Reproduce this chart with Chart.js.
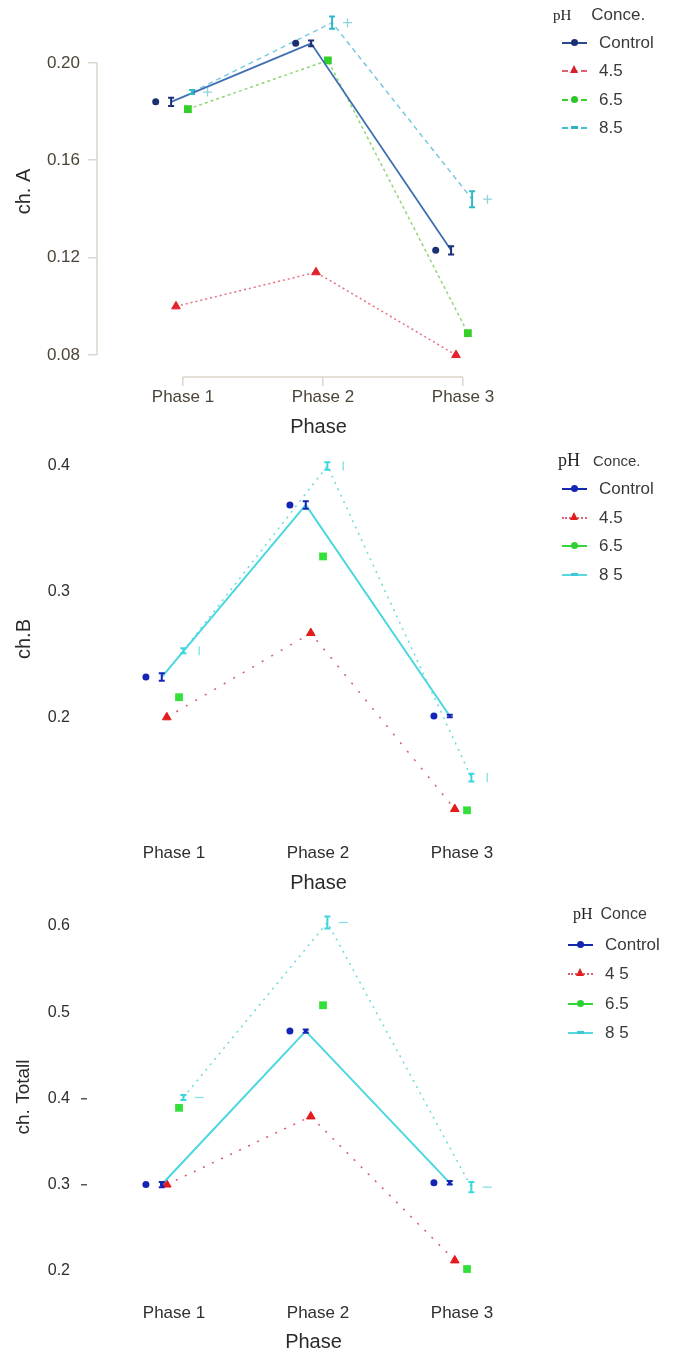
<!DOCTYPE html>
<html>
<head>
<meta charset="utf-8">
<script src="https://cdn.jsdelivr.net/npm/chart.js@4.4.1/dist/chart.umd.min.js"></script>
<style>
  html, body { margin: 0; padding: 0; background: #fff; overflow: hidden; }
  body { position: relative; width: 675px; height: 1354px; font-family: "Liberation Sans", Arial, sans-serif; }
  canvas { position: absolute; left: 0; }
  .legend { position: absolute; color: #3a3a3a; }
  .legend .head { position: absolute; white-space: nowrap; }
  .legend .head .ph { font-family: "Liberation Serif", "DejaVu Serif", serif; color: #222; }
  .legend .row { position: absolute; left: 0; height: 20px; line-height: 20px; white-space: nowrap; font-size: 17px; }
  .legend .sym { position: absolute; left: 0; top: 3px; width: 25px; height: 14px; }
  .legend .sym .ln { position: absolute; left: 0; right: 0; top: 6px; border-top-width: 2px; }
  .legend .sym .mk { position: absolute; }
  .legend .txt { position: absolute; left: 37px; top: 0; }
</style>
</head>
<body>
<canvas id="chartA" width="675" height="440" style="top:0px"></canvas>
<canvas id="chartB" width="675" height="460" style="top:440px"></canvas>
<canvas id="chartT" width="675" height="456" style="top:898px"></canvas>
<div class="legend" id="legA"></div>
<div class="legend" id="legB"></div>
<div class="legend" id="legT"></div>
<script>
const phases = ['Phase 1', 'Phase 2', 'Phase 3'];

// ch. A
const chA_control = [0.184, 0.208, 0.123];
const chA_ph45 = [0.100, 0.114, 0.080];
const chA_ph65 = [0.181, 0.201, 0.089];
const chA_ph85 = [0.188, 0.2165, 0.144];
const chA_errControl = [0.0017, 0.0012, 0.0017];
const chA_err85 = [0.0008, 0.0025, 0.0033];
const chA_ticks = [0.08, 0.12, 0.16, 0.20];
const chA_labels = ['Control', '4.5', '6.5', '8.5'];

// ch.B
const chB_control = [0.232, 0.369, 0.201];
const chB_ph45 = [0.200, 0.267, 0.127];
const chB_ph65 = [0.216, 0.328, 0.126];
const chB_ph85 = [0.253, 0.400, 0.152];
const chB_errControl = [0.003, 0.003, 0.001];
const chB_err85 = [0.002, 0.003, 0.003];
const chB_ticks = [0.2, 0.3, 0.4];
const chB_labels = ['Control', '4.5', '6.5', '8 5'];

// ch. Totall
const chT_control = [0.300, 0.478, 0.302];
const chT_ph45 = [0.300, 0.379, 0.212];
const chT_ph65 = [0.389, 0.508, 0.202];
const chT_ph85 = [0.401, 0.604, 0.297];
const chT_errControl = [0.003, 0.002, 0.002];
const chT_err85 = [0.003, 0.007, 0.006];
const chT_ticks = [0.2, 0.3, 0.4, 0.5, 0.6];
const chT_labels = ['Control', '4 5', '6.5', '8 5'];

// horizontal dodge of each series around its phase (phase units)
const dodge = { ctrlDot: -0.195, ctrlLine: -0.085, ph45: -0.05, ph65: 0.035, ph85: 0.065, ph85Mark: 0.175 };

function pts(values, off) {
  return values.map((v, i) => ({ x: i + 1 + off, y: v }));
}

// little "I" error bars, drawn through the scales
const errorBars = {
  id: 'errorBars',
  afterDatasetsDraw(chart) {
    const { ctx, scales: { x, y } } = chart;
    chart.data.datasets.forEach((ds) => {
      if (!ds.errors) return;
      ctx.save();
      ctx.strokeStyle = ds.errorColor;
      ctx.lineWidth = 2;
      ds.data.forEach((p, i) => {
        const px = x.getPixelForValue(p.x);
        const top = y.getPixelForValue(p.y + ds.errors[i]);
        const bot = y.getPixelForValue(p.y - ds.errors[i]);
        ctx.beginPath();
        ctx.moveTo(px, top); ctx.lineTo(px, bot);
        ctx.moveTo(px - 3, top); ctx.lineTo(px + 3, top);
        ctx.moveTo(px - 3, bot); ctx.lineTo(px + 3, bot);
        ctx.stroke();
      });
      ctx.restore();
    });
  }
};

// R style axis lines that only span first..last tick
const rAxis = {
  id: 'rAxis',
  beforeDatasetsDraw(chart, args, opts) {
    if (!opts.color) return;
    const { ctx, scales: { x, y }, chartArea } = chart;
    const yt = y.ticks, xt = x.ticks;
    ctx.save();
    ctx.strokeStyle = opts.color;
    ctx.lineWidth = 1.5;
    ctx.beginPath();
    ctx.moveTo(chartArea.left, y.getPixelForValue(yt[0].value));
    ctx.lineTo(chartArea.left, y.getPixelForValue(yt[yt.length - 1].value));
    ctx.moveTo(x.getPixelForValue(xt[0].value), chartArea.bottom);
    ctx.lineTo(x.getPixelForValue(xt[xt.length - 1].value), chartArea.bottom);
    ctx.stroke();
    ctx.restore();
  }
};

function makeChart(id, c) {
  const s = c.style;
  const datasets = [
    { label: 'Control', data: pts(c.control, dodge.ctrlLine), borderColor: s.ctrlLine, borderWidth: s.ctrlWidth,
      pointStyle: 'rect', pointRadius: s.ctrlR, pointBackgroundColor: s.ctrlPoint, pointBorderWidth: 0,
      errors: c.errControl, errorColor: s.ctrlPoint },
    { label: 'Control mean', data: pts(c.control, dodge.ctrlDot), showLine: false,
      pointStyle: 'circle', pointRadius: 3.5, pointBackgroundColor: s.ctrlPoint, pointBorderWidth: 0 },
    { label: '4.5', data: pts(c.ph45, dodge.ph45), borderColor: s.p45Line, borderDash: s.p45Dash, borderWidth: 1.5,
      pointStyle: 'triangle', pointRadius: 5, pointBackgroundColor: s.p45Point, pointBorderColor: s.p45Point, pointBorderWidth: 1 },
    { label: '6.5', data: pts(c.ph65, dodge.ph65), showLine: s.p65ShowLine, borderColor: s.p65Line, borderDash: [3, 3], borderWidth: 1.5,
      pointStyle: 'rect', pointRadius: 5.5, pointBackgroundColor: s.p65Point, pointBorderWidth: 0 },
    { label: '8.5', data: pts(c.ph85, dodge.ph85), borderColor: s.p85Line, borderDash: s.p85Dash, borderWidth: 1.5,
      pointRadius: 0, errors: c.err85, errorColor: s.p85Point },
    { label: '8.5 mark', data: pts(c.ph85, dodge.ph85Mark), showLine: false,
      pointStyle: s.markStyle, pointRotation: s.markRot, pointRadius: 4.5, pointBorderColor: s.p85Mark, pointBorderWidth: 1.3 }
  ];

  return new Chart(document.getElementById(id), {
    type: 'line',
    data: { datasets: datasets },
    plugins: [rAxis, errorBars],
    options: {
      responsive: false,
      animation: false,
      layout: { padding: { top: 5, right: 675 - c.right, left: 0, bottom: 0 } },
      plugins: {
        legend: { display: false },
        tooltip: { enabled: false },
        rAxis: { color: c.axisLine }
      },
      scales: {
        x: {
          type: 'linear', min: c.xMin, max: c.xMax,
          afterBuildTicks: sc => { sc.ticks = phases.map((p, i) => ({ value: i + 1 })); },
          afterFit: sc => { sc.height = c.height - c.bottom; sc.paddingLeft = 0; sc.paddingRight = 0; },
          ticks: { callback: v => phases[Math.round(v) - 1], autoSkip: false, maxRotation: 0,
                   padding: c.xPad, color: c.tickColor, font: { family: 'Liberation Sans', size: 17 } },
          grid: c.axisLine ? { drawOnChartArea: false, drawTicks: true, tickLength: 9, color: c.axisLine, lineWidth: 1.5 }
                           : { display: false, drawTicks: false },
          border: { display: false },
          title: { display: true, text: 'Phase', color: '#2a2a2a', font: { family: 'Liberation Sans', size: 20 },
                   padding: { top: 0, bottom: c.titlePad } }
        },
        y: {
          type: 'linear', min: c.yMin, max: c.yMax,
          afterBuildTicks: sc => { sc.ticks = c.ticks.map(v => ({ value: v })); },
          afterFit: sc => { sc.width = c.left; sc.paddingTop = 0; sc.paddingBottom = 0; },
          ticks: { callback: v => v.toFixed(c.decimals), padding: c.yPad, color: c.tickColor,
                   font: { family: 'Liberation Sans', size: c.yFont } },
          grid: c.yGrid,
          border: { display: false },
          title: { display: true, text: c.title, color: '#2a2a2a', font: { family: 'Liberation Sans', size: c.titleFont },
                   padding: { top: 12, bottom: 0 } }
        }
      }
    }
  });
}

makeChart('chartA', {
  control: chA_control, ph45: chA_ph45, ph65: chA_ph65, ph85: chA_ph85,
  errControl: chA_errControl, err85: chA_err85, ticks: chA_ticks, decimals: 2, title: 'ch. A', titleFont: 20,
  height: 440, bottom: 377, left: 97, right: 540, xMin: 0.3857, xMax: 3.55, yMin: 0.07099, yMax: 0.22334,
  xPad: 1, yPad: 8, yFont: 17, titlePad: 1, tickColor: '#4d4438', axisLine: '#dcd5ca',
  yGrid: { drawOnChartArea: false, drawTicks: true, tickLength: 9, color: '#dcd5ca', lineWidth: 1.5 },
  style: {
    ctrlLine: '#3f6fb3', ctrlWidth: 1.8, ctrlPoint: '#1b2f73', ctrlR: 0,
    p45Line: '#e5707f', p45Dash: [2, 3], p45Point: '#e3222c',
    p65ShowLine: true, p65Line: '#8ed873', p65Point: '#35cf2a',
    p85Line: '#78c9dc', p85Dash: [5, 4], p85Point: '#2fb8c8', p85Mark: '#8fd3dc', markStyle: 'cross', markRot: 0
  }
});

makeChart('chartB', {
  control: chB_control, ph45: chB_ph45, ph65: chB_ph65, ph85: chB_ph85,
  errControl: chB_errControl, err85: chB_err85, ticks: chB_ticks, decimals: 1, title: 'ch.B', titleFont: 20,
  height: 460, bottom: 392, left: 97, right: 540, xMin: 0.4653, xMax: 3.5417, yMin: 0.10873, yMax: 0.41587,
  xPad: 11, yPad: 27, yFont: 16, titlePad: 5, tickColor: '#2e2e2e', axisLine: null,
  yGrid: { display: false, drawTicks: false },
  style: {
    ctrlLine: '#4ad7e0', ctrlWidth: 2, ctrlPoint: '#1424b4', ctrlR: 0,
    p45Line: '#d0606a', p45Dash: [2, 9], p45Point: '#e21b1b',
    p65ShowLine: false, p65Line: '#33e03a', p65Point: '#33e03a',
    p85Line: '#6fd8e0', p85Dash: [2, 5], p85Point: '#3dd6e0', p85Mark: '#7fe0e6', markStyle: 'line', markRot: 90
  }
});

makeChart('chartT', {
  control: chT_control, ph45: chT_ph45, ph65: chT_ph65, ph85: chT_ph85,
  errControl: chT_errControl, err85: chT_err85, ticks: chT_ticks, decimals: 1, title: 'ch. Totall', titleFont: 19,
  height: 456, bottom: 392, left: 87, right: 540, xMin: 0.39583, xMax: 3.5417, yMin: 0.17767, yMax: 0.62546,
  xPad: 13, yPad: 11, yFont: 16, titlePad: 0, tickColor: '#2e2e2e', axisLine: null,
  yGrid: { drawOnChartArea: false, drawTicks: true, tickLength: 6, lineWidth: 1.5,
           tickColor: ctx => (ctx.tick && (Math.abs(ctx.tick.value - 0.3) < 1e-6 || Math.abs(ctx.tick.value - 0.4) < 1e-6)) ? '#555' : 'rgba(0,0,0,0)' },
  style: {
    ctrlLine: '#4ad7e0', ctrlWidth: 2, ctrlPoint: '#1424b4', ctrlR: 2.5,
    p45Line: '#d85a64', p45Dash: [2, 8], p45Point: '#e21b1b',
    p65ShowLine: false, p65Line: '#33e03a', p65Point: '#33e03a',
    p85Line: '#6fd8e0', p85Dash: [2, 5], p85Point: '#3dd6e0', p85Mark: '#7fe0e6', markStyle: 'line', markRot: 0
  }
});

// legends, R style: line + marker, then label
function buildLegend(id, pos, header, labels, items) {
  const el = document.getElementById(id);
  el.style.left = pos.left + 'px';
  el.style.top = pos.top + 'px';
  const head = document.createElement('div');
  head.className = 'head';
  head.style.left = pos.headLeft + 'px';
  head.style.top = '0px';
  head.innerHTML = '<span class="ph" style="font-size:' + pos.phFont + 'px;margin-right:' + pos.gap + 'px">pH</span>' +
                   '<span style="font-size:' + pos.headFont + 'px">' + header + '</span>';
  el.appendChild(head);
  labels.forEach((lab, i) => {
    const it = items[i];
    const row = document.createElement('div');
    row.className = 'row';
    row.style.top = (pos.firstRow + i * pos.step) + 'px';
    const sym = document.createElement('span');
    sym.className = 'sym';
    const ln = document.createElement('span');
    ln.className = 'ln';
    ln.style.borderTopStyle = it.dash;
    ln.style.borderTopColor = it.line;
    sym.appendChild(ln);
    const mk = document.createElement('span');
    mk.className = 'mk';
    if (it.marker === 'circle') {
      Object.assign(mk.style, { left: '9px', top: '3px', width: '7px', height: '7px', borderRadius: '50%', background: it.color });
    } else if (it.marker === 'triangle') {
      Object.assign(mk.style, { left: '8px', top: '1px', width: '0', height: '0', borderLeft: '4.5px solid transparent',
        borderRight: '4.5px solid transparent', borderBottom: '8px solid ' + it.color });
    } else if (it.marker === 'square') {
      Object.assign(mk.style, { left: '8px', top: '3px', width: '9px', height: '7px', borderRadius: '2px', background: it.color });
    } else {
      Object.assign(mk.style, { left: '9px', top: '5px', width: '7px', height: '3px', background: it.color });
    }
    sym.appendChild(mk);
    row.appendChild(sym);
    const txt = document.createElement('span');
    txt.className = 'txt';
    txt.textContent = lab;
    row.appendChild(txt);
    el.appendChild(row);
  });
}

buildLegend('legA', { left: 562, top: 5, headLeft: -9, phFont: 15, gap: 20, headFont: 17, firstRow: 28, step: 28.3 }, 'Conce.', chA_labels, [
  { line: '#2a4a90', dash: 'solid', marker: 'circle', color: '#1b2f73' },
  { line: '#e0606e', dash: 'dashed', marker: 'triangle', color: '#d8202a' },
  { line: '#3ccf30', dash: 'dashed', marker: 'circle', color: '#2ec42a' },
  { line: '#40c0d0', dash: 'dashed', marker: 'dash', color: '#2fb0c4' }
]);

buildLegend('legB', { left: 562, top: 450, headLeft: -4, phFont: 18, gap: 13, headFont: 15, firstRow: 29, step: 28.7 }, 'Conce.', chB_labels, [
  { line: '#1428b0', dash: 'solid', marker: 'circle', color: '#1424b4' },
  { line: '#d86070', dash: 'dotted', marker: 'triangle', color: '#e21b1b' },
  { line: '#33d83a', dash: 'solid', marker: 'circle', color: '#2ed035' },
  { line: '#5ad8e0', dash: 'solid', marker: 'dash', color: '#3dc8d8' }
]);

buildLegend('legT', { left: 568, top: 905, headLeft: 5, phFont: 16, gap: 8, headFont: 16, firstRow: 30, step: 29.3 }, 'Conce', chT_labels, [
  { line: '#1428b0', dash: 'solid', marker: 'circle', color: '#1424b4' },
  { line: '#d86070', dash: 'dotted', marker: 'triangle', color: '#e21b1b' },
  { line: '#33d83a', dash: 'solid', marker: 'circle', color: '#2ed035' },
  { line: '#5ad8e0', dash: 'solid', marker: 'dash', color: '#3dc8d8' }
]);
</script>
</body>
</html>
